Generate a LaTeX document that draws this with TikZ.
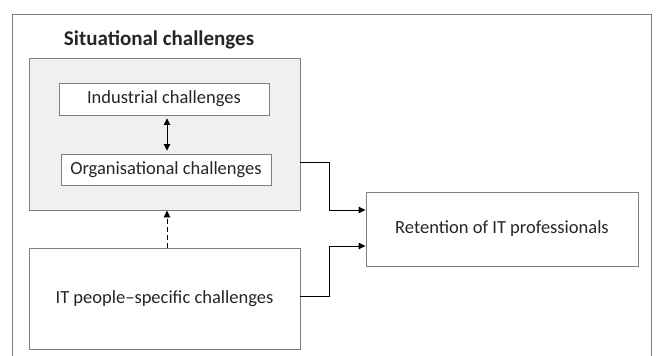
\documentclass[tikz,border=0pt]{standalone}
\usepackage{fontspec}
\setmainfont{Carlito}
\usetikzlibrary{arrows.meta}
\definecolor{boxgray}{HTML}{808080}
\definecolor{fillgray}{HTML}{F0F0F0}
\definecolor{textgray}{HTML}{262626}
\tikzset{
  box/.style={draw=boxgray, line width=0.9pt, rectangle, inner sep=0pt, text=textgray, font=\fontsize{18.5}{22}\selectfont},
  conn/.style={draw=black, line width=0.9pt, -{Triangle[length=7pt,width=6.5pt]}},
}
\begin{document}
\begin{tikzpicture}[x=1pt,y=-1pt]
\useasboundingbox (0,0) rectangle (657,356);
% outer frame (open at the bottom beyond the picture)
\draw[boxgray, line width=0.9pt] (12,370) -- (12,14) -- (651,14) -- (651,370);
\node[font=\bfseries\fontsize{21}{25}\selectfont, text=textgray] (title) at (159,40) {Situational challenges};
\node[box, fill=fillgray, minimum width=271pt, minimum height=152pt] (sit) at (164.5,134) {};
\node[box, fill=white, minimum width=210pt, minimum height=32pt] (ind) at (164,99) {Industrial challenges};
\node[box, fill=white, minimum width=210pt, minimum height=31pt] (org) at (166,169.5) {Organisational challenges};
\node[box, minimum width=271pt, minimum height=101pt] (itp) at (164.5,298.5) {IT people–specific challenges};
\node[box, minimum width=272pt, minimum height=74pt] (ret) at (502,229) {Retention of IT professionals};
\coordinate (c1) at (329,162);
\coordinate (c2) at (329,296);
\draw[black, line width=0.9pt, {Triangle[length=6.5pt,width=6.5pt]}-{Triangle[length=6.5pt,width=6.5pt]}, shorten <=3pt, shorten >=3pt] (ind.south -| 167,0) -- (org.north -| 167,0);
\draw[conn, dashed, dash pattern=on 5pt off 3pt] (itp.north -| 167,0) -- (sit.south -| 167,0);
\draw[conn] (sit.east |- c1) -- (c1) |- (ret.west |- 0,210);
\draw[conn] (itp.east |- c2) -- (c2) |- (ret.west |- 0,246);
\end{tikzpicture}
\end{document}
